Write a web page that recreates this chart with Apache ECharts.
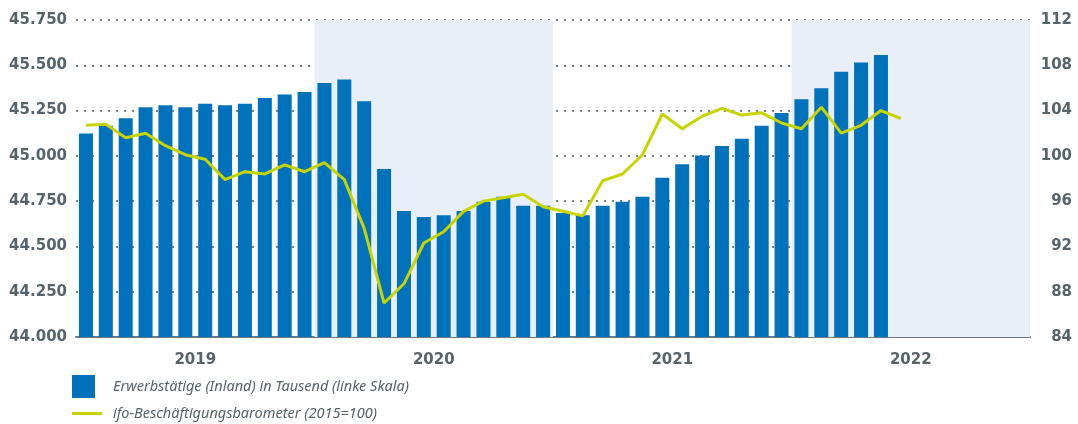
<!DOCTYPE html>
<html>
<head>
<meta charset="utf-8">
<script src="https://cdn.jsdelivr.net/npm/echarts@6/dist/echarts.min.js"></script>
<style>
  html, body { margin: 0; padding: 0; background: #fff; }
  #chart { width: 1078px; height: 424px; }
</style>
</head>
<body>
<div id="chart"></div>
<script>
var years = ['2019', '2020', '2021', '2022'];
var months = [];
years.forEach(function (y) {
    for (var m = 1; m <= 12; m++) months.push(y + '-' + (m < 10 ? '0' + m : m));
});

// Erwerbstätige (Inland), in Mio. (Achse zeigt Tausend mit Punkt)
var erwerbstaetige = [
    45.124, 45.166, 45.207, 45.268, 45.279, 45.268, 45.288, 45.279, 45.288, 45.319, 45.339, 45.352,
    45.402, 45.422, 45.301, 44.928, 44.695, 44.663, 44.672, 44.695, 44.746, 44.774, 44.724, 44.724,
    44.685, 44.672, 44.724, 44.746, 44.774, 44.879, 44.953, 45.002, 45.054, 45.094, 45.166, 45.236,
    45.312, 45.373, 45.464, 45.516, 45.557
];

// ifo-Beschäftigungsbarometer (2015=100)
var ifoBarometer = [
    102.7, 102.8, 101.6, 102.0, 100.9, 100.1, 99.7, 97.9, 98.6, 98.4, 99.2, 98.6,
    99.4, 97.9, 93.6, 87.0, 88.7, 92.3, 93.3, 95.1, 96.0, 96.3, 96.6, 95.5,
    95.1, 94.7, 97.8, 98.4, 100.1, 103.7, 102.4, 103.5, 104.2, 103.6, 103.8, 102.9,
    102.4, 104.3, 102.0, 102.7, 104.0, 103.3
];

var leftTicks = { min: 44, max: 45.75, step: 0.25 };
var rightTicks = { min: 84, max: 112, step: 4 };

var nameBar = 'Erwerbstätige (Inland) in Tausend (linke Skala)';
var nameLine = 'ifo-Beschäftigungsbarometer (2015=100)';

var labelColor = '#56636b';
var axisFont = 'DejaVu Sans, sans-serif';
var legendFont = 'Noto Sans, sans-serif';

var myChart = echarts.init(document.getElementById('chart'));
option = {
    animation: false,
    grid: { left: 76, right: 48, top: 20, bottom: 87 },
    legend: [
        {
            data: [{ name: nameBar, icon: 'rect' }],
            left: 72, top: 375, padding: 0,
            itemWidth: 23, itemHeight: 23,
            textStyle: { color: labelColor, fontStyle: 'italic', fontSize: 14.5, fontFamily: legendFont, padding: [0, 0, 0, 13] },
            selectedMode: false
        },
        {
            data: [{ name: nameLine, icon: 'rect' }],
            left: 72, top: 406, padding: 0,
            itemWidth: 30, itemHeight: 3,
            textStyle: { color: labelColor, fontStyle: 'italic', fontSize: 14.5, fontFamily: legendFont, padding: [0, 0, 0, 6] },
            selectedMode: false
        }
    ],
    xAxis: [
        {
            type: 'category',
            data: months,
            axisLine: { lineStyle: { color: '#6d7880', width: 2 } },
            axisTick: { show: false },
            axisLabel: { show: false }
        },
        {
            type: 'category',
            data: years,
            position: 'bottom',
            axisLine: { show: false },
            axisTick: { show: false },
            axisLabel: { color: labelColor, fontWeight: 'bold', fontSize: 15, fontFamily: axisFont, margin: 16 }
        }
    ],
    yAxis: [
        {
            type: 'value',
            min: leftTicks.min, max: leftTicks.max, interval: leftTicks.step,
            axisLine: { show: false },
            axisTick: { show: false },
            axisLabel: {
                color: labelColor, fontWeight: 'bold', fontSize: 15, fontFamily: axisFont, margin: 9,
                formatter: function (v) { return v.toFixed(3); }
            },
            splitLine: { lineStyle: { color: '#737f86', type: [2, 6], width: 2 } }
        },
        {
            type: 'value',
            position: 'right',
            min: rightTicks.min, max: rightTicks.max, interval: rightTicks.step,
            axisLine: { show: false },
            axisTick: { show: false },
            axisLabel: { color: labelColor, fontWeight: 'bold', fontSize: 15, fontFamily: axisFont, margin: 42, align: 'right' },
            splitLine: { show: false }
        }
    ],
    series: [
        {
            name: nameBar,
            type: 'bar',
            data: erwerbstaetige,
            barWidth: 14,
            itemStyle: { color: '#0072bb' },
            markArea: {
                silent: true,
                itemStyle: { color: '#e8eff8' },
                data: [
                    [{ xAxis: '2020-01' }, { xAxis: '2020-12' }],
                    [{ xAxis: '2022-01' }, { xAxis: '2022-12' }]
                ]
            }
        },
        {
            name: nameLine,
            type: 'line',
            yAxisIndex: 1,
            data: ifoBarometer,
            symbol: 'none',
            lineStyle: { color: '#c8d400', width: 3 },
            itemStyle: { color: '#c8d400' },
            z: 3
        }
    ]
};
myChart.setOption(option);
</script>
</body>
</html>
